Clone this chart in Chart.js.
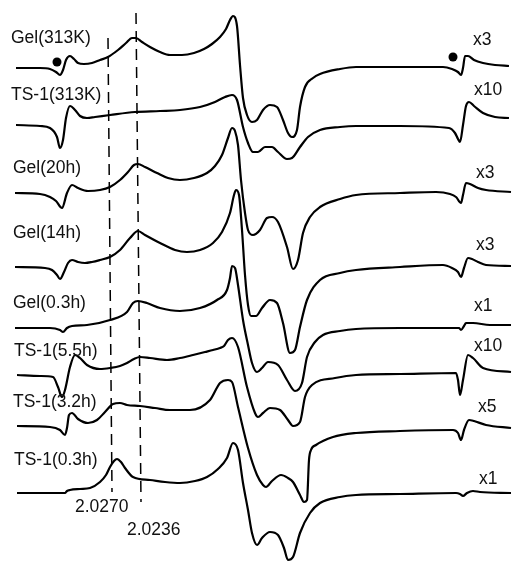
<!DOCTYPE html>
<html>
<head>
<meta charset="utf-8">
<script src="https://cdn.jsdelivr.net/npm/chart.js@4.4.1/dist/chart.umd.min.js"></script>
<style>
body { margin: 0; background: #fff; }
#epr { display: block; }
</style>
</head>
<body>
<canvas id="epr" width="512" height="562"></canvas>
<script>
// samples top to bottom, gain factor printed at right
var sampleNames = ['Gel(313K)', 'TS-1(313K)', 'Gel(20h)', 'Gel(14h)', 'Gel(0.3h)', 'TS-1(5.5h)', 'TS-1(3.2h)', 'TS-1(0.3h)'];
var gains = ['x3', 'x10', 'x3', 'x3', 'x1', 'x10', 'x5', 'x1'];
// vertical offset of each spectrum in the stack
var offsets = [494, 437, 369, 295, 234, 186, 136, 69];

// field (arbitrary units) and derivative signal
var field1 = [16,40,50,56,60,63,66,70,74,78,84,92,100,108,118,126,132,136,142,150,160,170,182,194,204,212,220,226,230,233,237,240,243,247,252,257,263,270,277,283,288,292,297,300,305,313,320,340,356,400,443,452,458,461,463,465,468,474,483,495,509];
var signal1 = [0,0,-1,-4,-7,-2,8,12,9,5,4,5,8,11,18,25,30,30,26,21,16,13,13,15,19,24,31,39,48,52,42,3,-30,-47,-54,-52,-42,-37,-39,-52,-65,-69,-62,-39,-19,-10,-6,-1,1,1,1,-1,-4,-7,0,12,12,8,5,3,2];

var field2 = [16,40,50,57,60,63,66,70,75,80,87,95,110,135,160,180,200,215,225,232,237,243,248,253,258,265,272,278,287,292,300,308,320,340,356,400,449,455,458,460,463,466,469,474,483,495,509];
var signal2 = [0,-1,-3,-12,-23,-15,7,19,15,9,7,8,10,13,14,15,18,23,28,30,25,-2,-18,-27,-27,-22,-22,-27,-34,-33,-22,-12,-5,-2,-1,-1,-3,-8,-14,-17,0,19,23,19,12,8,7];

var field3 = [15,40,50,56,62,67,72,78,88,100,110,120,128,134,138,145,157,168,180,194,207,215,222,228,232,235,238,241,245,248,253,260,267,272,278,287,293,298,303,310,320,340,356,400,436,450,456,461,463,466,470,478,486,511];
var signal3 = [0,-1,-4,-8,-15,0,8,5,2,3,6,13,21,28,29,26,20,15,13,15,20,27,38,55,65,62,48,13,-20,-37,-42,-37,-25,-24,-29,-54,-76,-67,-40,-24,-14,-6,-2,0,1,-1,-4,-10,-2,10,9,5,3,1];

var field4 = [15,45,52,57,60,64,68,72,78,85,92,100,110,120,130,138,145,160,175,187,200,213,222,230,234,236,239,242,245,248,251,256,262,270,277,283,290,295,300,307,320,340,356,400,443,452,458,461,464,468,472,478,486,511];
var signal4 = [0,-1,-3,-8,-12,-5,4,7,5,4,5,7,10,17,29,36,32,24,17,15,17,24,35,54,72,77,72,37,-8,-38,-49,-49,-41,-33,-36,-56,-86,-83,-60,-33,-13,-6,-3,0,2,-1,-5,-10,-1,9,8,5,2,1];

var field5 = [15,50,60,63,67,72,87,110,127,133,138,147,160,180,200,217,227,230,232,235,238,243,248,252,257,262,268,278,287,295,302,307,315,323,340,356,400,459,461,464,466,473,490,511];
var signal5 = [0,0,-2,-4,0,2,3,8,16,25,27,25,20,17,20,28,38,50,62,60,43,8,-17,-35,-44,-40,-34,-37,-52,-63,-55,-29,-14,-7,-3,-1,0,0,-2,2,5,5,3,3];

var field6 = [17,40,53,58,62,65,70,75,80,87,100,110,120,127,134,140,150,167,180,193,205,213,220,224,228,232,238,247,255,258,263,270,280,288,293,300,305,312,335,356,400,456,458,460,463,468,473,483,511];
var signal6 = [1,0,-1,-11,-21,-14,9,21,18,11,7,8,10,13,17,19,18,16,18,21,24,26,28,30,36,38,29,-11,-37,-41,-37,-32,-34,-44,-50,-46,-21,-9,-2,1,2,3,-4,-19,-4,21,18,8,4];

var field7 = [17,50,60,65,67,69,72,78,88,97,105,113,120,127,140,155,170,190,210,220,228,232,238,248,257,263,266,272,281,288,293,300,304,307,309,311,316,333,356,400,453,458,461,464,469,474,486,511];
var signal7 = [0,-1,-4,-9,-2,11,13,7,3,6,14,22,23,21,20,18,16,16,26,43,46,44,19,-22,-49,-59,-61,-55,-49,-52,-56,-69,-76,-74,-34,-24,-19,-11,-7,-5,-4,-7,-14,-4,6,5,1,-2];

var field8 = [17,65,67,70,80,90,100,106,110,114,117,121,125,133,150,165,180,195,207,218,227,233,238,243,248,252,257,262,270,278,284,288,293,300,310,320,340,356,400,456,460,463,467,473,480,511];
var signal8 = [0,0,2,3,4,5,11,18,26,32,34,31,25,16,13,11,10,12,16,24,35,50,43,10,-17,-40,-52,-45,-39,-42,-55,-67,-64,-40,-20,-10,-4,-2,-1,0,-1,-3,0,2,1,0];

var fields = [field1, field2, field3, field4, field5, field6, field7, field8];
var signals = [signal1, signal2, signal3, signal4, signal5, signal6, signal7, signal8];

// the two g-value markers (dashed lines)
var gLabels = ['2.0270', '2.0236'];
var gTopField = [108, 136];
var gBottomField = [112, 141];
var gTop = [524, 549];
var gBottom = [70, 60];

// black dots on the Gel(313K) spectrum
var dotField = [57, 453];
var dotSignal = [6, 11];

// text placement
var nameX = [11, 11, 13, 13, 13, 14, 13, 14];
var nameY = [524, 467, 394, 329, 259, 211, 160, 102];
var gainX = [473, 474, 476, 476, 474, 474, 478, 479];
var gainY = [522, 472, 389, 317, 256, 216, 155, 83];
var gLabelX = [75, 127];
var gLabelY = [55, 32];

var datasets = []

fields.forEach(function(f, i){
    var pts = f.map(function(x, k){ return { x: x, y: offsets[i] + signals[i][k] } })
    datasets.push({
        data: pts,
        showLine: true,
        borderColor: '#000',
        borderWidth: 2.2,
        pointRadius: 0,
        cubicInterpolationMode: 'monotone',
        fill: false
    })
})

gLabels.forEach(function(g, i){
    datasets.push({
        data: [ { x: gTopField[i], y: gTop[i] }, { x: gBottomField[i], y: gBottom[i] } ],
        showLine: true,
        borderColor: '#000',
        borderWidth: 1.5,
        borderDash: [11, 7],
        pointRadius: 0,
        fill: false
    })
})

datasets.push({
    data: dotField.map(function(x, k){ return { x: x, y: offsets[0] + dotSignal[k] } }),
    showLine: false,
    pointRadius: 4.5,
    pointBackgroundColor: '#000',
    pointBorderWidth: 0
})

var textLabels = {
    id: 'textLabels',
    afterDatasetsDraw: function(chart) {
        var ctx = chart.ctx
        var xs = chart.scales.x
        var ys = chart.scales.y
        ctx.save()
        ctx.font = '17.5px "Liberation Sans", Arial, sans-serif'
        ctx.fillStyle = '#111'
        ctx.textBaseline = 'middle'
        ctx.textAlign = 'left'
        sampleNames.forEach(function(name, i){
            ctx.fillText(name, xs.getPixelForValue(nameX[i]), ys.getPixelForValue(nameY[i]))
        })
        gains.forEach(function(g, i){
            ctx.fillText(g, xs.getPixelForValue(gainX[i]), ys.getPixelForValue(gainY[i]))
        })
        gLabels.forEach(function(g, i){
            ctx.fillText(g, xs.getPixelForValue(gLabelX[i]), ys.getPixelForValue(gLabelY[i]))
        })
        ctx.restore()
    }
}

var myChart = new Chart(document.getElementById('epr'), {
    type: 'scatter',
    data: { datasets: datasets },
    options: {
        responsive: false,
        animation: false,
        devicePixelRatio: 1,
        layout: { padding: 0, autoPadding: false },
        plugins: { legend: { display: false }, tooltip: { enabled: false } },
        scales: {
            x: { type: 'linear', min: 0, max: 512, display: false },
            y: { type: 'linear', min: 0, max: 562, display: false }
        }
    },
    plugins: [textLabels]
})
</script>
</body>
</html>
